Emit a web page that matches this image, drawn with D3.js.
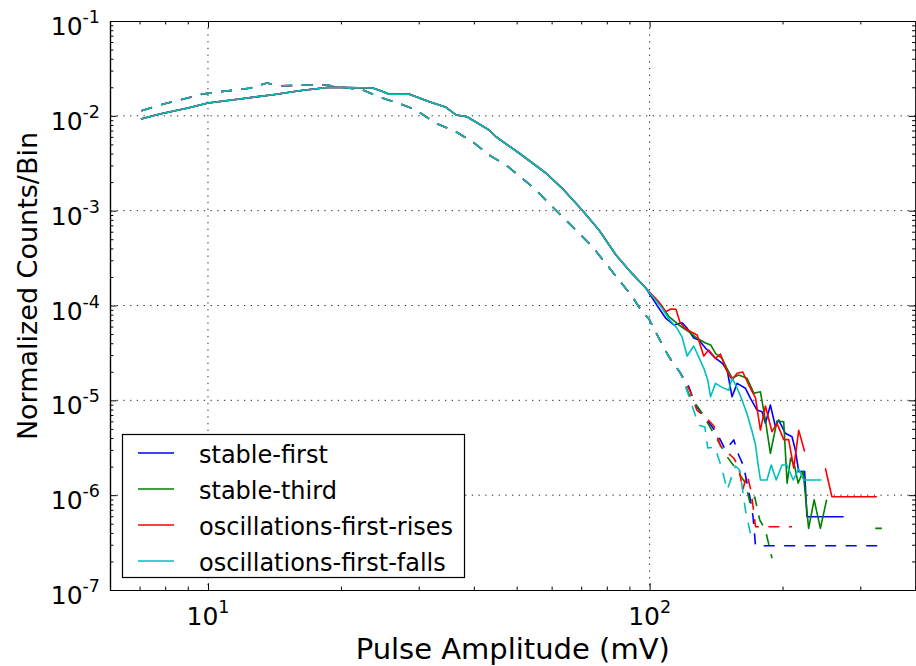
<!DOCTYPE html>
<html><head><meta charset="utf-8">
<script src="https://cdn.jsdelivr.net/npm/d3@7"></script>
<style>
body{margin:0;background:#fff}
svg{display:block}
text{font-family:"DejaVu Sans",sans-serif;fill:#000}
</style>
</head><body>
<svg id="chart" width="916" height="666"></svg>
<script>
// ---------------- data ----------------
const seriesNames = ["stable-first", "stable-third", "oscillations-first-rises", "oscillations-first-falls"];
const seriesColors = ["#0000ff", "#008000", "#ff0000", "#00bfbf"];

// shared low-amplitude part of the solid curves (mV, normalized counts/bin)
const solidHeadX = [7.05, 7.78, 9.01, 10.0, 11.8, 14.3, 16.1, 18.8, 23.6, 24.7, 25.7, 28.6, 31.7, 34.6, 36.5, 38.6, 43.3, 44.9, 50.7, 58.3, 63.4, 70.3, 76.8, 83.9, 91.2, 98.1];
const solidHeadY = [0.00926, 0.01045, 0.0121, 0.01365, 0.01505, 0.01687, 0.0184, 0.0200, 0.01966, 0.01827, 0.01687, 0.01687, 0.01409, 0.01230, 0.01020, 0.00979, 0.00709, 0.00602, 0.00403, 0.00248, 0.00172, 0.001016, 6.25e-4, 3.41e-4, 2.18e-4, 1.52e-4];

// shared part of the dashed curves
const dashHeadX = [7.07, 8.05, 8.94, 9.73, 11.0, 12.4, 13.6, 14.5, 16.7, 18.5, 22.4, 24.4, 25.3, 27.1, 29.6, 32.8, 36.4, 39.7, 43.3, 47.3, 51.5, 55.3, 60.2, 64.6, 69.2, 74.2, 79.5, 85.2, 91.4, 96.2, 99.6, 105.0, 110.6, 117.5];
const dashHeadY = [0.01133, 0.01356, 0.01531, 0.0170, 0.01827, 0.01951, 0.02220, 0.02064, 0.02114, 0.02114, 0.01873, 0.01591, 0.01494, 0.01356, 0.01152, 0.00834, 0.00680, 0.00534, 0.00386, 0.00303, 0.00219, 0.00165, 0.00110, 7.97e-4, 5.77e-4, 4.17e-4, 2.79e-4, 1.86e-4, 1.238e-4, 8.54e-5, 7.28e-5, 4.51e-5, 2.88e-5, 1.93e-5];

// solid tails (null = empty bin)
const stableFirstX = [105.0, 108.7, 113.5, 118.5, 121.6, 125.9, 129.2, 133.8, 139.8, 145.9, 149.8, 153.7, 157.8, 164.8, 169.2, 175.1, 179.7, 182.9, 187.7, 192.7, 196.0, 203.0, 206.5, 210.1, 213.8, 217.6, 224.4, 227.1, 275.0];
const stableFirstY = [9.34e-5, 7.38e-5, 6.23e-5, 6.58e-5, 5.75e-5, 4.54e-5, 4.33e-5, 3.56e-5, 2.88e-5, 2.47e-5, 2.09e-5, 1.09e-5, 1.51e-5, 1.34e-5, 1.05e-5, 7.90e-6, 7.59e-6, 5.72e-6, 8.93e-6, 5.27e-6, 6.20e-6, 4.49e-6, 4.31e-6, 4.13e-6, 2.99e-6, 1.77e-6, 1.77e-6, 5.92e-7, 5.92e-7];

const stableThirdX = [106.6, 110.6, 116.5, 122.7, 128.1, 133.8, 137.6, 141.0, 145.9, 149.5, 153.7, 159.1, 166.2, 172.2, 178.2, 182.9, 187.7, 194.3, 201.2, 204.8, 208.6, 213.0, 216.9, 222.6, 229.1, 235.8, 243.6, 251.7, 290.0, 324.3, 335.6];
const stableThirdY = [9.88e-5, 7.62e-5, 6.23e-5, 5.29e-5, 4.51e-5, 4.02e-5, 3.83e-5, 3.13e-5, 2.77e-5, 2.19e-5, 1.72e-5, 1.85e-5, 1.71e-5, 1.19e-5, 1.23e-5, 6.20e-6, 2.76e-6, 6.05e-6, 5.95e-6, 1.34e-6, 2.46e-6, 2.03e-6, 1.34e-6, 1.79e-6, 4.47e-7, 8.94e-7, 4.47e-7, 8.94e-7, null, 4.47e-7, 4.47e-7];

const oscRisesX = [105.0, 108.7, 111.7, 114.7, 117.1, 120.2, 124.0, 128.1, 132.6, 136.1, 141.0, 144.7, 148.8, 153.7, 157.8, 162.5, 167.7, 173.7, 178.2, 182.9, 189.3, 194.3, 201.2, 206.5, 212.0, 217.6, 224.4, 237.0, 250.0, 258.7, 327.0];
const oscRisesY = [1.088e-4, 8.60e-5, 9.18e-5, 9.12e-5, 6.70e-5, 5.75e-5, 5.29e-5, 4.88e-5, 2.93e-5, 3.39e-5, 2.77e-5, 3.08e-5, 2.14e-5, 1.64e-5, 1.93e-5, 1.99e-5, 1.45e-5, 1.06e-5, 4.86e-6, 8.71e-6, 4.67e-6, 5.72e-6, 3.85e-6, 3.85e-6, 1.93e-6, 4.82e-6, 2.89e-6, null, 1.92e-6, 9.63e-7, 9.63e-7];

const oscFallsX = [106.6, 110.6, 115.4, 118.5, 121.6, 125.9, 129.2, 132.6, 135.4, 137.4, 141.0, 145.9, 151.1, 153.7, 157.8, 161.9, 166.2, 170.3, 173.7, 175.7, 178.2, 184.4, 188.5, 193.5, 199.4, 204.6, 211.5, 217.6, 223.3, 245.2];
const oscFallsY = [9.41e-5, 7.21e-5, 5.75e-5, 4.60e-5, 2.93e-5, 3.74e-5, 2.86e-5, 2.19e-5, 1.64e-5, 1.09e-5, 1.51e-5, 1.37e-5, 1.28e-5, 1.71e-5, 1.35e-5, 1.01e-5, 7.17e-6, 4.86e-6, 3.38e-6, 2.24e-6, 1.445e-6, 1.445e-6, 2.08e-6, 1.445e-6, 2.08e-6, 2.08e-6, 1.445e-6, 1.89e-6, 1.445e-6, 1.445e-6];

// dashed tails
const stableFirstDashX = [122.7, 127.0, 133.8, 138.5, 143.4, 148.5, 155.1, 159.1, 163.4, 166.2, 169.2, 171.5, 173.7, 335.6];
const stableFirstDashY = [1.39e-5, 8.93e-6, 6.46e-6, 5.27e-6, 4.13e-6, 2.99e-6, 3.82e-6, 2.65e-6, 2.00e-6, 1.33e-6, 8.89e-7, 5.9e-7, 2.93e-7, 2.93e-7];
const stableThirdDashX = [122.7, 131.5, 141.0, 149.8, 156.4, 164.8, 169.2, 173.0, 177.6, 182.9, 189.3];
const stableThirdDashY = [1.166e-5, 7.30e-6, 4.13e-6, 2.54e-6, 1.93e-6, 1.34e-6, 7.87e-7, 9.56e-7, 5.47e-7, 4.29e-7, 2.16e-7];
const oscRisesDashX = [123.8, 127.9, 133.8, 139.8, 144.7, 149.8, 155.1, 159.1, 162.5, 166.2, 169.9, 173.7, 210.1];
const oscRisesDashY = [1.224e-5, 7.90e-6, 6.67e-6, 5.36e-6, 3.30e-6, 2.85e-6, 2.45e-6, 1.98e-6, 1.13e-6, 1.67e-6, 1.08e-6, 4.65e-7, 4.65e-7];
const oscFallsDashX = [118.4, 124.6, 129.2, 133.4, 135.4, 140.5, 145.7, 149.8, 156.4, 160.0, 164.8, 169.2];
const oscFallsDashY = [1.805e-5, 8.93e-6, 5.49e-6, 5.23e-6, 3.14e-6, 3.22e-6, 1.93e-6, 1.13e-6, 2.03e-6, 1.84e-6, 6.97e-7, 3.89e-7];

const xMajorTicks = [10, 100];
const xMinorTicks = [6, 7, 8, 9, 20, 30, 40, 50, 60, 70, 80, 90, 200, 300, 400];
const yMajorTicks = [1e-7, 1e-6, 1e-5, 1e-4, 1e-3, 1e-2, 1e-1];
const xTickLabels = [["10", "1"], ["10", "2"]];
const yTickLabels = [["10", "-7"], ["10", "-6"], ["10", "-5"], ["10", "-4"], ["10", "-3"], ["10", "-2"], ["10", "-1"]];
const xLabel = "Pulse Amplitude (mV)";
const yLabel = "Normalized Counts/Bin";

// ---------------- build ----------------
const zip = (xs, ys) => xs.map((v, i) => ({x: v, y: ys[i]}));
const solidSeries = [
  zip(solidHeadX.concat(stableFirstX), solidHeadY.concat(stableFirstY)),
  zip(solidHeadX.concat(stableThirdX), solidHeadY.concat(stableThirdY)),
  zip(solidHeadX.concat(oscRisesX), solidHeadY.concat(oscRisesY)),
  zip(solidHeadX.concat(oscFallsX), solidHeadY.concat(oscFallsY))
];
const dashSeries = [
  zip(dashHeadX.concat(stableFirstDashX), dashHeadY.concat(stableFirstDashY)),
  zip(dashHeadX.concat(stableThirdDashX), dashHeadY.concat(stableThirdDashY)),
  zip(dashHeadX.concat(oscRisesDashX), dashHeadY.concat(oscRisesDashY)),
  zip(dashHeadX.concat(oscFallsDashX), dashHeadY.concat(oscFallsDashY))
];

const L = 110, R = 915.5, T = 21, B = 590;
const svg = d3.select("#chart");
const x = d3.scaleLog().domain([6, 400]).range([L, R]);
const y = d3.scaleLog().domain([1e-7, 1e-1]).range([B, T]);

const yMinorTicks = [];
for (let e = -7; e < -1; e++) for (let m = 2; m <= 9; m++) yMinorTicks.push(m * Math.pow(10, e));

// grid
const grid = svg.append("g");
grid.selectAll("line.gx").data(xMajorTicks).join("line")
  .attr("x1", d => x(d)).attr("x2", d => x(d)).attr("y1", T).attr("y2", B)
  .attr("stroke", "#000").attr("stroke-width", 1).attr("stroke-dasharray", "1.3,5.4").attr("opacity", 0.85);
grid.selectAll("line.gy").data(yMajorTicks.slice(1, -1)).join("line")
  .attr("y1", d => y(d)).attr("y2", d => y(d)).attr("x1", L).attr("x2", R)
  .attr("stroke", "#000").attr("stroke-width", 1).attr("stroke-dasharray", "1.3,5.4").attr("opacity", 0.85);

// lines
const line = d3.line().defined(d => d.y != null).x(d => x(d.x)).y(d => y(d.y));
const plot = svg.append("g");
for (let i = 0; i < 4; i++) {
  plot.append("path").datum(solidSeries[i]).attr("d", line)
    .attr("fill", "none").attr("stroke", seriesColors[i]).attr("stroke-width", 1.6)
    .attr("stroke-linejoin", "round");
  plot.append("path").datum(dashSeries[i]).attr("d", line)
    .attr("fill", "none").attr("stroke", seriesColors[i]).attr("stroke-width", 1.6)
    .attr("stroke-dasharray", "11,9.5").attr("stroke-linejoin", "round");
}

// axes (ticks inward)
function styleAxis(g) {
  g.selectAll("path.domain").attr("stroke", "#000").attr("stroke-width", 1.2);
  g.selectAll(".tick line").attr("stroke", "#000").attr("stroke-width", 1);
  g.selectAll(".tick text").remove();
}
const maj = 6.7, mnr = 3.4;
svg.append("g").attr("transform", `translate(0,${B})`)
  .call(d3.axisBottom(x).tickValues(xMajorTicks).tickSizeInner(-maj).tickSizeOuter(0).tickFormat("")).call(styleAxis);
svg.append("g").attr("transform", `translate(0,${B})`)
  .call(d3.axisBottom(x).tickValues(xMinorTicks).tickSizeInner(-mnr).tickSizeOuter(0).tickFormat("")).call(styleAxis);
svg.append("g").attr("transform", `translate(0,${T})`)
  .call(d3.axisTop(x).tickValues(xMajorTicks).tickSizeInner(-maj).tickSizeOuter(0).tickFormat("")).call(styleAxis);
svg.append("g").attr("transform", `translate(0,${T})`)
  .call(d3.axisTop(x).tickValues(xMinorTicks).tickSizeInner(-mnr).tickSizeOuter(0).tickFormat("")).call(styleAxis);
svg.append("g").attr("transform", `translate(${L},0)`)
  .call(d3.axisLeft(y).tickValues(yMajorTicks).tickSizeInner(-maj).tickSizeOuter(0).tickFormat("")).call(styleAxis);
svg.append("g").attr("transform", `translate(${L},0)`)
  .call(d3.axisLeft(y).tickValues(yMinorTicks).tickSizeInner(-mnr).tickSizeOuter(0).tickFormat("")).call(styleAxis);
svg.append("g").attr("transform", `translate(${R},0)`)
  .call(d3.axisRight(y).tickValues(yMajorTicks).tickSizeInner(-maj).tickSizeOuter(0).tickFormat("")).call(styleAxis);
svg.append("g").attr("transform", `translate(${R},0)`)
  .call(d3.axisRight(y).tickValues(yMinorTicks).tickSizeInner(-mnr).tickSizeOuter(0).tickFormat("")).call(styleAxis);

// tick labels with superscripts
const baseSize = 25, supSize = 17.5;
xMajorTicks.forEach((v, i) => {
  const t = svg.append("text").attr("x", x(v)).attr("y", B + 35).attr("text-anchor", "middle")
    .style("font-size", baseSize + "px");
  t.append("tspan").text(xTickLabels[i][0]);
  t.append("tspan").attr("dy", -12).style("font-size", supSize + "px").text(xTickLabels[i][1]);
});
yMajorTicks.forEach((v, i) => {
  const t = svg.append("text").attr("x", 100).attr("y", y(v) + 14).attr("text-anchor", "end")
    .style("font-size", baseSize + "px");
  t.append("tspan").text(yTickLabels[i][0]);
  t.append("tspan").attr("dy", -12).style("font-size", supSize + "px").text(yTickLabels[i][1]);
});

// axis labels
svg.append("text").attr("x", (L + R) / 2).attr("y", 659).attr("text-anchor", "middle")
  .style("font-size", "29px").text(xLabel);
svg.append("text").attr("transform", "translate(37,286) rotate(-90)").attr("text-anchor", "middle")
  .style("font-size", "27px").text(yLabel);

// legend
const lg = svg.append("g");
lg.append("rect").attr("x", 122.5).attr("y", 434.5).attr("width", 342).attr("height", 143)
  .attr("fill", "#fff").attr("stroke", "#000").attr("stroke-width", 1.2);
seriesNames.forEach((n, i) => {
  const yy = 453 + i * 36;
  lg.append("line").attr("x1", 138).attr("x2", 174).attr("y1", yy).attr("y2", yy)
    .attr("stroke", seriesColors[i]).attr("stroke-width", 1.6);
  lg.append("text").attr("x", 199).attr("y", yy + 9.5).style("font-size", "24px").text(n);
});
</script>
</body></html>
